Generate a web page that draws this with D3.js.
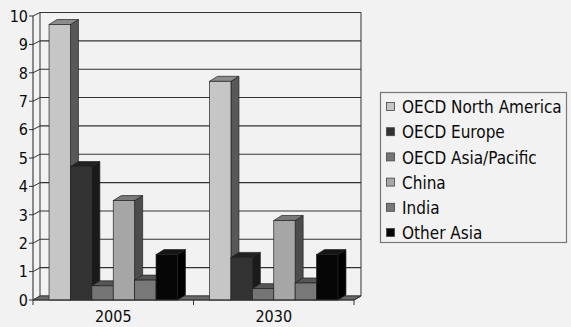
<!DOCTYPE html>
<html><head><meta charset="utf-8">
<script src="https://cdn.jsdelivr.net/npm/d3@7/dist/d3.min.js"></script>
<style>
html,body{margin:0;padding:0;background:#f2f2f2;}
svg{display:block;}
text{font-family:"DejaVu Sans Condensed","DejaVu Sans",sans-serif;font-stretch:condensed;fill:#0a0a0a;}
</style></head>
<body>
<svg id="chart" width="571" height="327"></svg>
<script>
const categories = ["2005", "2030"];
const seriesNames = ["OECD North America", "OECD Europe", "OECD Asia/Pacific", "China", "India", "Other Asia"];
const values2005 = [9.7, 4.7, 0.5, 3.5, 0.7, 1.6];
const values2030 = [7.7, 1.5, 0.4, 2.8, 0.6, 1.6];
const yTicks = [0,1,2,3,4,5,6,7,8,9,10];

const fronts = ["#c6c6c6", "#333333", "#757575", "#a6a6a6", "#787878", "#060606"];
const tops   = ["#8c8c8c", "#222222", "#555555", "#7a7a7a", "#565656", "#151515"];
const sides  = ["#585858", "#1a1a1a", "#444444", "#4c4c4c", "#454545", "#000000"];

const svg = d3.select("#chart");
const X0 = 33, X1 = 354, Yfront0 = 300, Yfront10 = 16;
const wallDx = 7;
const y = d3.scaleLinear().domain([0,10]).range([Yfront0, Yfront10]);
const yBack = d3.scaleLinear().domain([0,10]).range([296, 12.5]);
const x0 = d3.scaleBand().domain(categories).range([X0, X1]).paddingInner(0.2).paddingOuter(0.1);
const x1 = d3.scaleBand().domain(seriesNames).range([0, x0.bandwidth()]);
const barDx = 8, barDy = -5;
const lineCol = "#333";

// back wall grid
const g = svg.append("g");
g.selectAll("line.grid").data(yTicks).join("line")
  .attr("x1", X0 + wallDx).attr("x2", X1 + wallDx)
  .attr("y1", d => yBack(d)).attr("y2", d => yBack(d))
  .attr("stroke", lineCol).attr("stroke-width", 1.1);
// left wall diagonals
g.selectAll("line.diag").data(yTicks).join("line")
  .attr("x1", X0).attr("y1", d => y(d))
  .attr("x2", X0 + wallDx).attr("y2", d => yBack(d))
  .attr("stroke", lineCol).attr("stroke-width", 1);
// back wall verticals
g.append("line").attr("x1", X0+wallDx).attr("x2", X0+wallDx).attr("y1", yBack(10)).attr("y2", yBack(0)).attr("stroke", lineCol);
g.append("line").attr("x1", X1+wallDx).attr("x2", X1+wallDx).attr("y1", yBack(10)).attr("y2", yBack(0)).attr("stroke", lineCol);

// floor
g.append("path")
  .attr("d", `M${X0},${y(0)} L${X1},${y(0)} L${X1+wallDx},${yBack(0)} L${X0+wallDx},${yBack(0)} Z`)
  .attr("fill", "#6a6a6a").attr("stroke", "#333").attr("stroke-width", 0.8);

// bars
const data = [values2005, values2030];
categories.forEach((c, ci) => {
  data[ci].forEach((v, si) => {
    const bx = x0(c) + x1(seriesNames[si]);
    const bw = x1.bandwidth();
    const by = y(v);
    const bb = y(0);
    const bg = svg.append("g");
    bg.append("path")
      .attr("d", `M${bx+bw},${by} L${bx+bw+barDx},${by+barDy} L${bx+bw+barDx},${bb+barDy} L${bx+bw},${bb} Z`)
      .attr("fill", sides[si]).attr("stroke", "#222").attr("stroke-width", 0.7);
    bg.append("path")
      .attr("d", `M${bx},${by} L${bx+barDx},${by+barDy} L${bx+bw+barDx},${by+barDy} L${bx+bw},${by} Z`)
      .attr("fill", tops[si]).attr("stroke", "#222").attr("stroke-width", 0.7);
    bg.append("rect")
      .attr("x", bx).attr("y", by).attr("width", bw).attr("height", bb - by)
      .attr("fill", fronts[si]).attr("stroke", "#222").attr("stroke-width", 0.7);
  });
});

// front axes
svg.append("line").attr("x1", X0).attr("x2", X0).attr("y1", y(10)).attr("y2", y(0)).attr("stroke", lineCol).attr("stroke-width", 1.1);
svg.append("line").attr("x1", X0).attr("x2", X1).attr("y1", y(0)).attr("y2", y(0)).attr("stroke", lineCol).attr("stroke-width", 1.1);
svg.append("line").attr("x1", X1).attr("x2", X1+wallDx).attr("y1", y(0)).attr("y2", yBack(0)).attr("stroke", lineCol).attr("stroke-width", 1);

// y ticks & labels
svg.selectAll("line.ytick").data(yTicks).join("line")
  .attr("x1", X0 - 4).attr("x2", X0).attr("y1", d => y(d)).attr("y2", d => y(d))
  .attr("stroke", lineCol);
svg.selectAll("text.ylab").data(yTicks).join("text")
  .attr("x", X0 - 5).attr("y", d => y(d)).attr("dy", "0.36em")
  .attr("text-anchor", "end").attr("font-size", 16).text(d => d);

// x ticks
const xTickPos = [X0, (x0(categories[0]) + x0.bandwidth() + x0(categories[1])) / 2, X1];
svg.selectAll("line.xtick").data(xTickPos).join("line")
  .attr("x1", d => d).attr("x2", d => d).attr("y1", y(0)).attr("y2", y(0) + 5)
  .attr("stroke", lineCol);
svg.selectAll("text.xlab").data(categories).join("text")
  .attr("x", d => x0(d) + x0.bandwidth()/2).attr("y", 322)
  .attr("text-anchor", "middle").attr("font-size", 16).text(d => d);

// legend
const lg = svg.append("g");
lg.append("rect").attr("x", 380.5).attr("y", 92.5).attr("width", 186).attr("height", 150)
  .attr("fill", "#f2f2f2").attr("stroke", "#777").attr("stroke-width", 1.2);
const rowY = d3.scalePoint().domain(seriesNames).range([107, 233]);
seriesNames.forEach((s, i) => {
  lg.append("rect").attr("x", 386.5).attr("y", rowY(s) - 4.5).attr("width", 8).attr("height", 8)
    .attr("fill", fronts[i]).attr("stroke", "#444").attr("stroke-width", 0.8);
  lg.append("text").attr("x", 402).attr("y", rowY(s)).attr("dy", "0.36em")
    .attr("font-size", 17).text(s);
});
</script>
</body></html>
